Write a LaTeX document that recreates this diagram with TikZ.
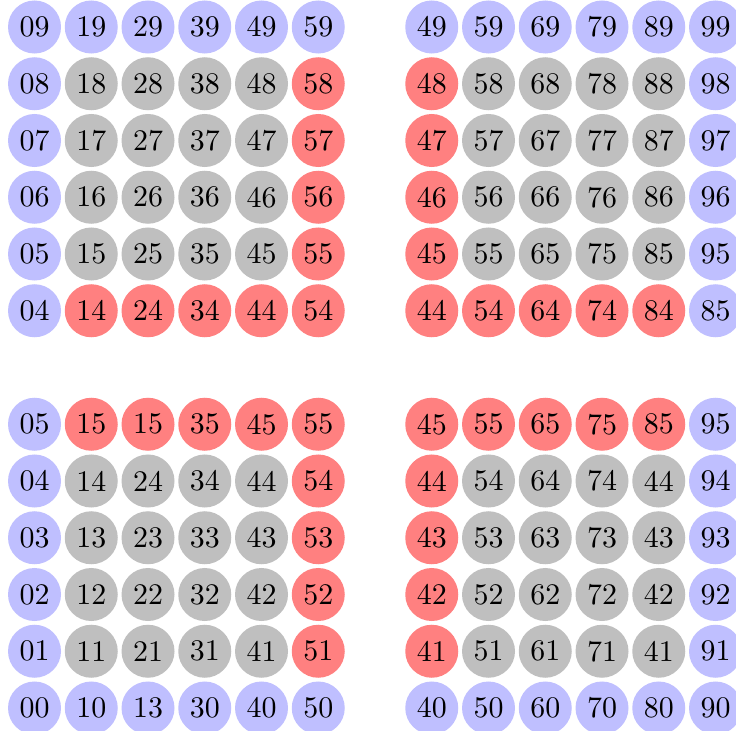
\documentclass[tikz,border=0pt]{standalone}
\tikzset{
  dot/.style={circle,inner sep=0pt,minimum size=6.227mm},
  cb/.style={dot,fill=blue!25},
  cg/.style={dot,fill=gray!50},
  cr/.style={dot,fill=red!50}
}
\newcommand\rowdots[2]{\foreach \x/\s/\t in {#2} {\node[\s] (n\x-#1) at (\x,#1) {\t};}}
\begin{document}
\begin{tikzpicture}[x=0.66667cm,y=0.66667cm]
\useasboundingbox (-0.608,-0.405) rectangle (12.361,12.476);
\rowdots{12}{0/cb/09,1/cb/19,2/cb/29,3/cb/39,4/cb/49,5/cb/59,7/cb/49,8/cb/59,9/cb/69,10/cb/79,11/cb/89,12/cb/99}
\rowdots{11}{0/cb/08,1/cg/18,2/cg/28,3/cg/38,4/cg/48,5/cr/58,7/cr/48,8/cg/58,9/cg/68,10/cg/78,11/cg/88,12/cb/98}
\rowdots{10}{0/cb/07,1/cg/17,2/cg/27,3/cg/37,4/cg/47,5/cr/57,7/cr/47,8/cg/57,9/cg/67,10/cg/77,11/cg/87,12/cb/97}
\rowdots{9}{0/cb/06,1/cg/16,2/cg/26,3/cg/36,4/cg/46,5/cr/56,7/cr/46,8/cg/56,9/cg/66,10/cg/76,11/cg/86,12/cb/96}
\rowdots{8}{0/cb/05,1/cg/15,2/cg/25,3/cg/35,4/cg/45,5/cr/55,7/cr/45,8/cg/55,9/cg/65,10/cg/75,11/cg/85,12/cb/95}
\rowdots{7}{0/cb/04,1/cr/14,2/cr/24,3/cr/34,4/cr/44,5/cr/54,7/cr/44,8/cr/54,9/cr/64,10/cr/74,11/cr/84,12/cb/85}
\rowdots{5}{0/cb/05,1/cr/15,2/cr/15,3/cr/35,4/cr/45,5/cr/55,7/cr/45,8/cr/55,9/cr/65,10/cr/75,11/cr/85,12/cb/95}
\rowdots{4}{0/cb/04,1/cg/14,2/cg/24,3/cg/34,4/cg/44,5/cr/54,7/cr/44,8/cg/54,9/cg/64,10/cg/74,11/cg/44,12/cb/94}
\rowdots{3}{0/cb/03,1/cg/13,2/cg/23,3/cg/33,4/cg/43,5/cr/53,7/cr/43,8/cg/53,9/cg/63,10/cg/73,11/cg/43,12/cb/93}
\rowdots{2}{0/cb/02,1/cg/12,2/cg/22,3/cg/32,4/cg/42,5/cr/52,7/cr/42,8/cg/52,9/cg/62,10/cg/72,11/cg/42,12/cb/92}
\rowdots{1}{0/cb/01,1/cg/11,2/cg/21,3/cg/31,4/cg/41,5/cr/51,7/cr/41,8/cg/51,9/cg/61,10/cg/71,11/cg/41,12/cb/91}
\rowdots{0}{0/cb/00,1/cb/10,2/cb/13,3/cb/30,4/cb/40,5/cb/50,7/cb/40,8/cb/50,9/cb/60,10/cb/70,11/cb/80,12/cb/90}
\end{tikzpicture}
\end{document}
